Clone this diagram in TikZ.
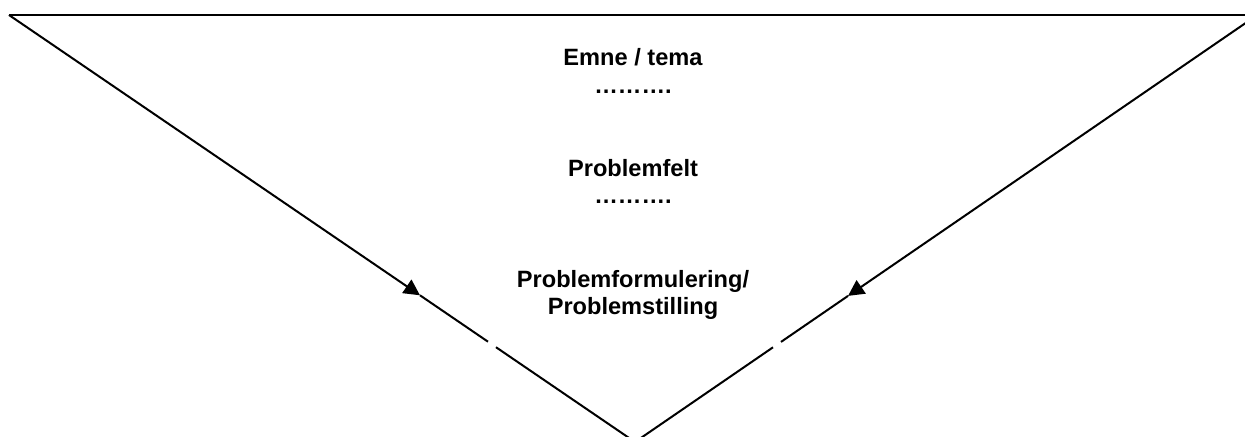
\documentclass[tikz,border=0pt]{standalone}
\usepackage{fontspec}
\setmainfont{Liberation Sans}
\usepackage{tikz}
\usetikzlibrary{arrows.meta}

\begin{document}
\begin{tikzpicture}[x=0.5pt, y=-0.5pt, line width=1pt,
    tri/.style={-{Triangle[length=8pt, width=8pt]}},
    lbl/.style={anchor=base, inner sep=0pt, font=\fontsize{11.8}{13.5}\selectfont\bfseries}]
    \useasboundingbox (0,0) rectangle (1245,436);
    \clip (0,0) rectangle (1245,436);
%    \draw [help lines] (0,0) grid[step=50] (1245,436);

    %% corners of the funnel
    \coordinate (tl) at (9,15);
    \coordinate (tr) at (1250,20);
    \coordinate (tre) at (1260,15);
    \coordinate (apex) at (635,442);

    %% arrow tips and small gaps on the sides
    \coordinate (la) at (420,295.3);
    \coordinate (lg1) at (488,341.7);
    \coordinate (lg2) at (496,347.2);
    \coordinate (ra) at (848,295.9);
    \coordinate (rg1) at (781,341.9);
    \coordinate (rg2) at (773,347.3);

    \draw (tl) -- (tre);

    \draw [tri] (tl) -- (la);
    \draw (la) -- (lg1);
    \draw (lg2) -- (apex);

    \draw [tri] (tr) -- (ra);
    \draw (ra) -- (rg1);
    \draw (rg2) -- (apex);

    %% texts, placed by their base lines
    \node (emne) [lbl] at (633,65) {Emne / tema};
    \node (dots1) [lbl] at (633,93) {……….};
    \node (felt) [lbl] at (633,176) {Problemfelt};
    \node (dots2) [lbl] at (633,203) {……….};
    \node (form) [lbl] at (633,287) {Problemformulering/};
    \node (still) [lbl] at (633,314) {Problemstilling};

  \end{tikzpicture}
\end{document}
